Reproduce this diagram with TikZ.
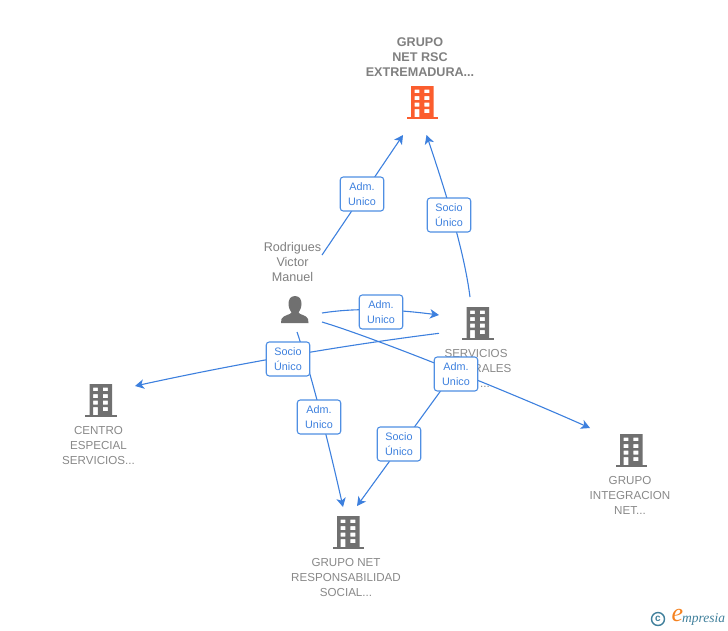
\documentclass[tikz,border=0pt]{standalone}
\usepackage{fontspec}
\setmainfont{Liberation Sans}
\newfontfamily\logofont{Liberation Serif}
\usetikzlibrary{arrows.meta}
\definecolor{bluel}{HTML}{3D80DE}
\definecolor{boxb}{HTML}{4F8FE3}
\definecolor{graytxt}{HTML}{808080}
\definecolor{graylow}{HTML}{888888}
\definecolor{grayb}{HTML}{707070}
\definecolor{orangeb}{HTML}{FB5D2E}
\definecolor{logot}{HTML}{3F7F9B}
\definecolor{logoo}{HTML}{F58220}
\tikzset{
  x=1pt,y=-1pt,
  building/.pic={
    \fill[pic actions,even odd rule]
      (-11,-17) rectangle (11.5,14)
      (-7.3,-13.5) rectangle (-2.7,-10) (2.3,-13.5) rectangle (7.3,-10)
      (-7.3,-7) rectangle (-2.7,-3) (2.3,-7) rectangle (7.3,-3)
      (-7.3,-0.5) rectangle (-2.7,3.5) (2.3,-0.5) rectangle (7.3,3.5)
      (-7.3,6) rectangle (-2.7,14) (2.3,6) rectangle (7.3,10);
    \fill[pic actions] (-15.5,14) rectangle (16,16.3);
  },
  bcap/.style={text=graylow,font=\fontsize{11.6}{15}\selectfont,align=center,inner sep=0pt},
  topcap/.style={text=graytxt,font=\fontsize{12.6}{15}\selectfont\bfseries,align=center,inner sep=0pt},
  capthin/.style={text=graytxt,font=\fontsize{12.6}{15}\selectfont,align=center,inner sep=0pt},
  conn/.style={draw=bluel,line width=1.1pt},
  arr/.style={conn,-{Stealth[length=9pt,width=9.5pt,inset=2.5pt]}},
  tag/.style={draw=boxb,line width=1.1pt,fill=white,rounded corners=3pt,
    minimum width=43.5pt,minimum height=34pt,inner sep=0pt,align=center,
    text=bluel,font=\fontsize{10.8}{15}\selectfont},
}
\begin{document}
\begin{tikzpicture}
\useasboundingbox (0,0) rectangle (728,630);
% building captions
\node[topcap] (ltop) at (420,57.5) {GRUPO\\NET RSC\\EXTREMADURA...};
\node[capthin] (lperson) at (292.5,262) {Rodrigues\\Victor\\Manuel};
\node[bcap] (lserv) at (476,368) {SERVICIOS\\GENERALES\\\hspace*{18pt}...};
\node[bcap] (lcentro) at (98.5,445.5) {CENTRO\\ESPECIAL\\SERVICIOS...};
\node[bcap] (lgint) at (630,495.5) {GRUPO\\INTEGRACION\\NET...};
\node[bcap] (lgnet) at (346,577.5) {GRUPO NET\\RESPONSABILIDAD\\SOCIAL...};
% icons
\pic[fill=orangeb] at (422,103) {building};
\pic[fill=grayb] at (477.5,324) {building};
\pic[fill=grayb] at (100.5,401) {building};
\pic[fill=grayb] at (631,451) {building};
\pic[fill=grayb] at (348,533) {building};
\fill[grayb] (295,296) .. controls (290,296) and (288.5,300) .. (288.5,304)
  .. controls (288.5,308) and (290.5,311) .. (291.5,312.5)
  .. controls (291.5,314.5) and (283,315) .. (281.5,319) -- (281,323) -- (308.5,323) -- (308,319)
  .. controls (307,315) and (298.5,314.5) .. (298.5,312.5)
  .. controls (299.5,311) and (301.5,308) .. (301.5,304)
  .. controls (301.5,300) and (300,296) .. (295,296) -- cycle;
% connector ends
\coordinate (pa) at (322,255);
\coordinate (pb) at (322,313);
\coordinate (pc) at (322,322);
\coordinate (pd) at (297,332);
\coordinate (s1) at (470,297);
\coordinate (s2) at (439,333.3);
\coordinate (s3) at (450,378);
\coordinate (ttop1) at (403,135);
\coordinate (ttop2) at (426.5,135);
\coordinate (tserv) at (439,315);
\coordinate (tcentro) at (135,386);
\coordinate (tgint) at (590,428);
\coordinate (tgnet1) at (343,507);
\coordinate (tgnet2) at (357,506);
% curve handles
\coordinate (c1a) at (464,250);
\coordinate (c1b) at (445,190);
\coordinate (c2a) at (360,307);
\coordinate (c2b) at (400,310);
\coordinate (c3a) at (372,337);
\coordinate (c3b) at (500,388);
\coordinate (c4a) at (310,370);
\coordinate (c4b) at (328,440);
\coordinate (c5a) at (338,346);
\coordinate (c5b) at (236,364);
% connectors
\draw[arr] (pa) -- (ttop1);
\draw[arr] (s1) .. controls (c1a) and (c1b) .. (ttop2);
\draw[arr] (pb) .. controls (c2a) and (c2b) .. (tserv);
\draw[arr] (pc) .. controls (c3a) and (c3b) .. (tgint);
\draw[arr] (s2) .. controls (c5a) and (c5b) .. (tcentro);
\draw[arr] (pd) .. controls (c4a) and (c4b) .. (tgnet1);
\draw[arr] (s3) -- (tgnet2);
% tags
\node[tag] (t1) at (362,194) {Adm.\\Unico};
\node[tag] (t2) at (449,215) {Socio\\Único};
\node[tag] (t3) at (381,312) {Adm.\\Unico};
\node[tag] (t4) at (456,374) {Adm.\\Unico};
\node[tag] (t5) at (288,359) {Socio\\Único};
\node[tag] (t6) at (319,417) {Adm.\\Unico};
\node[tag] (t7) at (399,444) {Socio\\Único};
% logo
\node[circle,draw=logot,line width=1.4pt,minimum size=13pt,inner sep=0pt,text=logot,font=\fontsize{10}{10}\selectfont\bfseries] (copy) at (658,619) {c};
\node[inner sep=0pt,text=logoo,font=\fontsize{26}{26}\logofont\itshape] (loge) at (677.5,615.5) {e};
\node[inner sep=0pt,anchor=west,text=logot,font=\fontsize{13.5}{13}\logofont\itshape] (logotxt) at (682,619) {mpresia};
\end{tikzpicture}
\end{document}
